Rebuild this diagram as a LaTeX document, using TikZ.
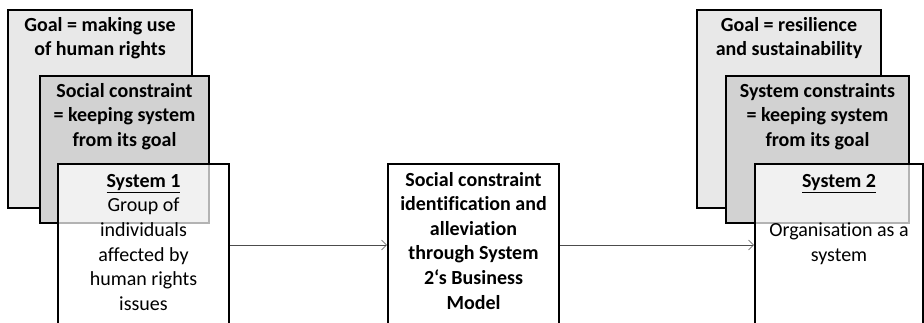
\documentclass[tikz,border=0pt]{standalone}
\usepackage{fontspec}
\setmainfont{Carlito}[Ligatures=NoCommon]
\usetikzlibrary{arrows.meta}
\tikzset{
  box/.style={
    rectangle,
    draw=black,
    line width=2.1pt,
    inner sep=0pt
  },
  goalbox/.style={box, fill=gray!18},
  conbox/.style={box, fill=gray!35},
  sysbox/.style={box, fill=white, fill opacity=0.7, draw opacity=1},
  txt/.style={
    anchor=north,
    align=center,
    inner sep=0pt,
    font=\fontsize{20}{24.6}\selectfont
  },
  btxt/.style={txt, font=\bfseries\fontsize{20}{24.6}\selectfont}
}
\tikzstyle{arrow} = [-{Straight Barb[length=5pt,width=10pt]}, line width=0.6pt, draw=black!70]
\def\head#1{\textbf{\underline{#1}}}

\begin{document}
\begin{tikzpicture}[x=1pt, y=1pt]
    \useasboundingbox (0,0) rectangle (924,322);
    \clip (0,0) rectangle (924,322);
    % left stack
    \node[goalbox, minimum width=184, minimum height=198] (goalL) at (100, 213) {};
    \node[btxt] (goalLt) at ([yshift=-8]goalL.north) {Goal = making use\\of human rights};
    \node[conbox, minimum width=169, minimum height=147] (conL) at (124.5, 172.5) {};
    \node[btxt] (conLt) at ([yshift=-8]conL.north) {Social constraint\\= keeping system\\from its goal};
    \node[sysbox, minimum width=171, minimum height=162] (sys1) at (143.5, 77) {};
    \node[txt] (sys1t) at ([yshift=-11]sys1.north) {\head{System 1}\\Group of\\individuals\\affected by\\human rights\\issues};
    % middle
    \node[box, fill=white, minimum width=171, minimum height=162] (mid) at (473.5, 77) {};
    \node[btxt] (midt) at ([yshift=-9]mid.north) {Social constraint\\identification and\\alleviation\\through System\\2`s Business\\Model};
    % right stack
    \node[goalbox, minimum width=184, minimum height=198] (goalR) at (789, 213) {};
    \node[btxt] (goalRt) at ([yshift=-8]goalR.north) {Goal = resilience\\and sustainability};
    \node[conbox, minimum width=183, minimum height=147] (conR) at (817.5, 172.5) {};
    \node[btxt] (conRt) at ([yshift=-8]conR.north) {System constraints\\= keeping system\\from its goal};
    \node[sysbox, minimum width=168, minimum height=162] (sys2) at (839, 77) {};
    \node[txt] (sys2t) at ([yshift=-11]sys2.north) {\head{System 2}\\[24.6pt]Organisation as a\\system};
    % flow
    \draw[arrow] (sys1) -- (mid);
    \draw[arrow] (mid) -- (sys2);
\end{tikzpicture}
\end{document}
